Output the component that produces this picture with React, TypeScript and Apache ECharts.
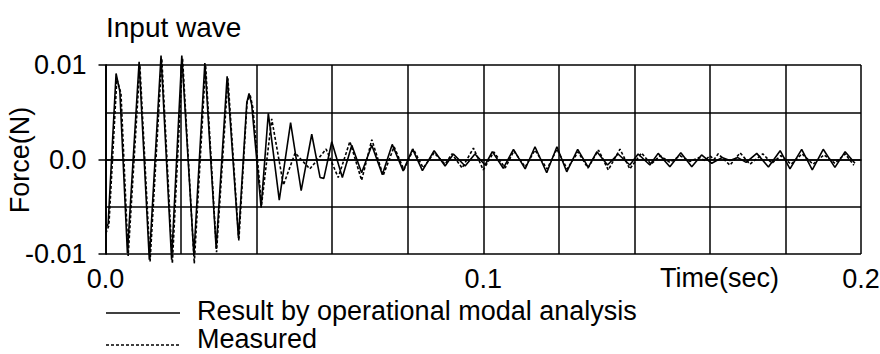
import React, { useEffect, useRef } from "react";
import * as echarts from "echarts";

const FONT = '"Liberation Sans", Arial, sans-serif';

// Result by operational modal analysis (solid)
const resultT = [
  0.0001, 0.0007, 0.0028, 0.0038, 0.0058, 0.0089, 0.0116, 0.0147, 0.0175, 0.0202,
  0.0234, 0.0263, 0.0293, 0.0322, 0.0352, 0.0374, 0.038, 0.0387, 0.0412, 0.0431,
  0.046, 0.049, 0.0518, 0.0546, 0.0568, 0.0578, 0.0599, 0.0627, 0.0652, 0.0678,
  0.0705, 0.0733, 0.0759, 0.0788, 0.0813, 0.0839, 0.087, 0.0899, 0.0921, 0.0952,
  0.0978, 0.1005, 0.1024, 0.1053, 0.108, 0.1111, 0.1137, 0.1168, 0.1195, 0.1221,
  0.125, 0.1278, 0.1301, 0.1329, 0.1357, 0.1388, 0.141, 0.1441, 0.1463, 0.1494,
  0.1523, 0.1552, 0.1578, 0.1605, 0.1632, 0.1653, 0.1674, 0.1696, 0.1724, 0.1755,
  0.1786, 0.1812, 0.1843, 0.1871, 0.19, 0.1931, 0.1958, 0.1984,
];
const resultV = [
  -0.0073, -0.0068, 0.0091, 0.0072, -0.0099, 0.01035, -0.0106, 0.011, -0.0106, 0.011,
  -0.0101, 0.0102, -0.0094, 0.0088, -0.0083, 0.006, 0.007, 0.0058, -0.0051, 0.0049,
  -0.0043, 0.0039, -0.0033, 0.00267, -0.0019, -0.002, 0.00188, -0.0019, 0.0015, -0.0014,
  0.0015, -0.0016, 0.0016, -0.0012, 0.0011, -0.00118, 0.00093, -0.00069, 0.00058, -0.00069,
  0.00058, -0.00058, 0.00083, -0.00093, 0.00108, -0.001, 0.00135, -0.0014, 0.00135, -0.0013,
  0.00108, -0.00083, 0.00083, -0.00058, 0.00058, -0.00058, 0.00058, -0.00058, 0.00065, -0.00076,
  0.00072, -0.00076, 0.00048, -0.0004, 0.0002, -0.0001, 0.0002, -0.0003, 0.00065, -0.0008,
  0.00093, -0.001, 0.00108, -0.0011, 0.00108, -0.00083, 0.00083, -0.0004,
];

// Measured (dashed)
const measuredT = [
  0.0001, 0.0009, 0.003, 0.0041, 0.006, 0.0091, 0.0118, 0.0149, 0.0177, 0.0204,
  0.0235, 0.0265, 0.0294, 0.0324, 0.0353, 0.0375, 0.0383, 0.039, 0.0413, 0.044,
  0.0471, 0.0502, 0.0541, 0.0584, 0.0616, 0.0647, 0.0678, 0.0705, 0.0735, 0.0764,
  0.079, 0.0815, 0.0841, 0.087, 0.0899, 0.0917, 0.0944, 0.0974, 0.1, 0.1028,
  0.1058, 0.1081, 0.1111, 0.1137, 0.1169, 0.1195, 0.1222, 0.1251, 0.1277, 0.1305,
  0.1331, 0.1362, 0.1388, 0.1419, 0.1444, 0.1468, 0.1494, 0.1521, 0.1547, 0.1571,
  0.1587, 0.16, 0.1611, 0.1622, 0.1653, 0.168, 0.1706, 0.174, 0.1764, 0.1788,
  0.1815, 0.1844, 0.1873, 0.1902, 0.1931, 0.1958, 0.1981,
];
const measuredV = [
  -0.0078, -0.007, 0.0085, 0.007, -0.0102, 0.01, -0.0108, 0.0107, -0.011, 0.0107,
  -0.011, 0.01, -0.0098, 0.0086, -0.0086, 0.0062, 0.0068, 0.0055, -0.0048, 0.0043,
  -0.0027, 0.0007, -0.001, 0.0011, -0.0019, 0.0019, -0.0022, 0.0021, -0.0017, 0.00135,
  -0.0011, 0.0011, -0.0009, 0.0007, -0.0005, 0.0006, -0.0009, 0.0012, -0.0011, 0.0008,
  -0.0009, 0.0009, -0.0008, 0.001, -0.001, 0.0011, -0.001, 0.0008, -0.0009, 0.001,
  -0.0011, 0.0011, -0.001, 0.0007, -0.0005, 0.0004, -0.0003, 0.0004, -0.0002, 0.0002,
  -0.0001, 0.0004, 0.0, 0.0006, -0.0006, 0.0007, -0.0005, 0.0006, -0.0004, 0.0004,
  -0.0005, 0.0006, -0.0005, 0.0005, -0.0004, 0.0006, -0.0006,
];

const xLabelValues = [0, 0.1, 0.2];
const xLabelTexts = ["0.0", "0.1", "0.2"];
const yLabelValues = [-0.01, 0, 0.01];
const yLabelTexts = ["-0.01", "0.0", "0.01"];

const seriesNames = ["Result by operational modal analysis", "Measured"];

function pickLabel(v: number, vals: number[], texts: string[]) {
  for (let i = 0; i < vals.length; i++) {
    if (Math.abs(v - vals[i]) < 1e-9) return texts[i];
  }
  return "";
}

export default function App() {
  const ref = useRef<HTMLDivElement>(null);
  useEffect(() => {
    document.body.style.margin = "0";
    const chart = echarts.init(ref.current!, null, { renderer: "svg" });
    const black = "#000";
    const gridLine = { color: black, width: 1.5 };
    const textStyle = (text: string, size: number) => ({
      text,
      fontFamily: FONT,
      fontSize: size,
      fill: black,
      align: "left",
      verticalAlign: "middle",
    });
    chart.setOption({
      animation: false,
      backgroundColor: "#fff",
      title: {
        text: "Input wave",
        left: 106,
        top: 13,
        padding: 0,
        textStyle: { fontFamily: FONT, fontSize: 28, fontWeight: "normal", color: black },
      },
      grid: {
        left: 105.5,
        right: 19,
        top: 65,
        height: 189,
        containLabel: false,
        outerBoundsMode: "none",
      },
      xAxis: {
        type: "value",
        min: 0,
        max: 0.2,
        interval: 0.02,
        axisLine: { show: true, lineStyle: gridLine },
        axisTick: { show: false },
        splitLine: { show: true, lineStyle: gridLine },
        axisLabel: {
          margin: 11,
          fontFamily: FONT,
          fontSize: 27,
          color: black,
          showMinLabel: true,
          showMaxLabel: true,
          formatter: (v: number) => pickLabel(v, xLabelValues, xLabelTexts),
        },
      },
      yAxis: [
        {
          type: "value",
          position: "left",
          min: -0.01,
          max: 0.01,
          interval: 0.005,
          axisLine: { show: true, lineStyle: gridLine },
          axisTick: { show: false },
          axisLabel: { show: false },
          splitLine: { show: true, lineStyle: gridLine },
        },
        {
          type: "value",
          position: "left",
          min: -0.01,
          max: 0.01,
          interval: 0.01,
          axisLine: { show: true, lineStyle: gridLine },
          axisTick: { show: true, length: 7, lineStyle: gridLine },
          splitLine: { show: false },
          axisLabel: {
            margin: 19,
            fontFamily: FONT,
            fontSize: 27,
            color: black,
            formatter: (v: number) => pickLabel(v, yLabelValues, yLabelTexts),
          },
        },
      ],
      graphic: [
        { type: "text", x: 660, y: 278, style: textStyle("Time(sec)", 27) },
        {
          type: "text",
          x: 20,
          y: 160,
          rotation: Math.PI / 2,
          style: { ...textStyle("Force(N)", 27), align: "center" },
        },
        {
          type: "line",
          shape: { x1: 106, y1: 313, x2: 180, y2: 313 },
          style: { stroke: black, lineWidth: 1.5 },
        },
        { type: "text", x: 197, y: 311, style: textStyle(seriesNames[0], 27) },
        {
          type: "line",
          shape: { x1: 106, y1: 345, x2: 180, y2: 345 },
          style: { stroke: black, lineWidth: 1.3, lineDash: [3, 2] },
        },
        { type: "text", x: 197, y: 339, style: textStyle(seriesNames[1], 27) },
      ],
      series: [
        {
          name: seriesNames[0],
          type: "line",
          yAxisIndex: 0,
          data: resultT.map((t, i) => [t, resultV[i]]),
          symbol: "none",
          clip: false,
          z: 3,
          itemStyle: { color: black },
          lineStyle: { color: black, width: 1.6, type: "solid" },
        },
        {
          name: seriesNames[1],
          type: "line",
          yAxisIndex: 0,
          data: measuredT.map((t, i) => [t, measuredV[i]]),
          symbol: "none",
          clip: false,
          z: 2,
          itemStyle: { color: black },
          lineStyle: { color: black, width: 1.6, type: [3, 2] },
        },
      ],
    });
    return () => chart.dispose();
  }, []);
  return <div ref={ref} style={{ width: 880, height: 354 }} />;
}
